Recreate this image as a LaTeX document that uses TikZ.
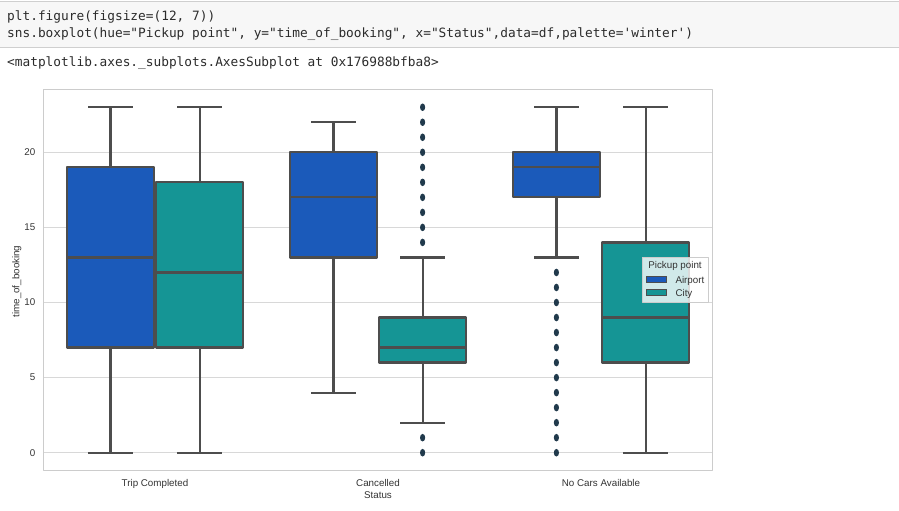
\documentclass[tikz,border=0pt]{standalone}
\usepackage{fontspec}
\setmainfont{Liberation Sans}
\newfontfamily\codefont{DejaVu Sans Mono}

\definecolor{airport}{HTML}{1B5ABA}
\definecolor{city}{HTML}{159595}
\definecolor{linegray}{HTML}{4D4D4D}
\definecolor{fliercol}{HTML}{213A4C}
\definecolor{gridgray}{HTML}{D8D8D8}
\definecolor{spinegray}{HTML}{CCCCCC}
\definecolor{cellbg}{HTML}{F7F7F7}
\definecolor{cellline}{HTML}{CFCFCF}
\definecolor{codetext}{HTML}{2B2B2B}
\definecolor{labeltext}{HTML}{333333}

\begin{document}
\begin{tikzpicture}[
    x={(1pt,0pt)},
    y={(0pt,-1pt)},
    line join=round,
    declare function={cx(\c)=155+223*\c; vy(\v)=452.7-15.02*\v; hw=0.196; cw=0.1;},
    gridline/.style={draw=gridgray, line width=0.9pt},
    spine/.style={draw=spinegray, line width=0.9pt},
    whisker/.style={draw=linegray, line width=2.2pt},
    boxbody/.style={draw=linegray, line width=2.2pt},
    flier/.style={fill=fliercol},
    codeline/.style={anchor=base west, inner sep=0pt, text=codetext, font=\codefont\fontsize{12.8}{15}\selectfont},
    axislabel/.style={inner sep=0pt, text=labeltext, font=\fontsize{9.8}{11}\selectfont}
]
\useasboundingbox (0,0) rectangle (899,511);

% code cell
\fill[cellbg] (0,1) rectangle (899,47.7);
\draw[cellline] (0,1) -- (899,1);
\draw[cellline] (0,47.7) -- (899,47.7);
\node[codeline] (code1) at (7,21) {plt.figure(figsize=(12, 7))};
\node[codeline] (code2) at (7,37.5) {sns.boxplot(hue="Pickup point", y="time\_of\_booking", x="Status",data=df,palette=\textquotesingle winter\textquotesingle)};
\node[codeline] (outtext) at (7,66.5) {<matplotlib.axes.\_subplots.AxesSubplot at 0x176988bfba8>};

% axes
\foreach \v in {0,5,...,20} {
    \draw[gridline] (43.5,{vy(\v)}) -- (712.5,{vy(\v)});
    \node[axislabel, anchor=east] (ytick\v) at (35.5,{vy(\v)}) {\v};
}
\draw[spine] (43.5,89) rectangle (712.5,470);

% boxes: centre / colour / low / q1 / median / q3 / high
\foreach \c/\fillc/\lo/\qa/\md/\qb/\hi in {
    -0.2/airport/0/7/13/19/23,
    0.2/city/0/7/12/18/23,
    0.8/airport/4/13/17/20/22,
    1.2/city/2/6/7/9/13,
    1.8/airport/13/17/19/20/23,
    2.2/city/0/6/9/14/23} {
    \draw[whisker] ({cx(\c)},{vy(\lo)}) -- ({cx(\c)},{vy(\qa)});
    \draw[whisker] ({cx(\c)},{vy(\qb)}) -- ({cx(\c)},{vy(\hi)});
    \draw[whisker] ({cx(\c-cw)},{vy(\lo)}) -- ({cx(\c+cw)},{vy(\lo)});
    \draw[whisker] ({cx(\c-cw)},{vy(\hi)}) -- ({cx(\c+cw)},{vy(\hi)});
    \filldraw[boxbody, fill=\fillc] ({cx(\c-hw)},{vy(\qa)}) rectangle ({cx(\c+hw)},{vy(\qb)});
    \draw[whisker] ({cx(\c-hw)},{vy(\md)}) -- ({cx(\c+hw)},{vy(\md)});
}

% outliers
\foreach \v in {0,1,14,15,...,23}
    \fill[flier] ({cx(1.2)},{vy(\v)}) ellipse [x radius=2.6pt, y radius=3.8pt];
\foreach \v in {0,1,...,12}
    \fill[flier] ({cx(1.8)},{vy(\v)}) ellipse [x radius=2.6pt, y radius=3.8pt];

% legend
\fill[white, fill opacity=0.8] (642,257) rectangle (708,302);
\draw[spine] (642,257) rectangle (708,302);
\node[axislabel, anchor=base] (legtitle) at (675,268.7) {Pickup point};
\filldraw[fill=airport, draw=linegray, line width=0.6pt] (646,276) rectangle (666.5,282.5);
\filldraw[fill=city, draw=linegray, line width=0.6pt] (646,289) rectangle (666.5,295.5);
\node[axislabel, anchor=base west] (legairport) at (675.3,283.3) {Airport};
\node[axislabel, anchor=base west] (legcity) at (675.3,296) {City};

% labels
\node[axislabel, anchor=base] (xtrip) at ({cx(0)},486) {Trip Completed};
\node[axislabel, anchor=base] (xcancel) at ({cx(1)},486) {Cancelled};
\node[axislabel, anchor=base] (xnocars) at ({cx(2)},486) {No Cars Available};
\node[axislabel, anchor=base] (xlabel) at (378,498.5) {Status};
\node[axislabel, anchor=base, rotate=90] (ylabel) at (19.5,281.5) {time\_of\_booking};

\end{tikzpicture}
\end{document}
